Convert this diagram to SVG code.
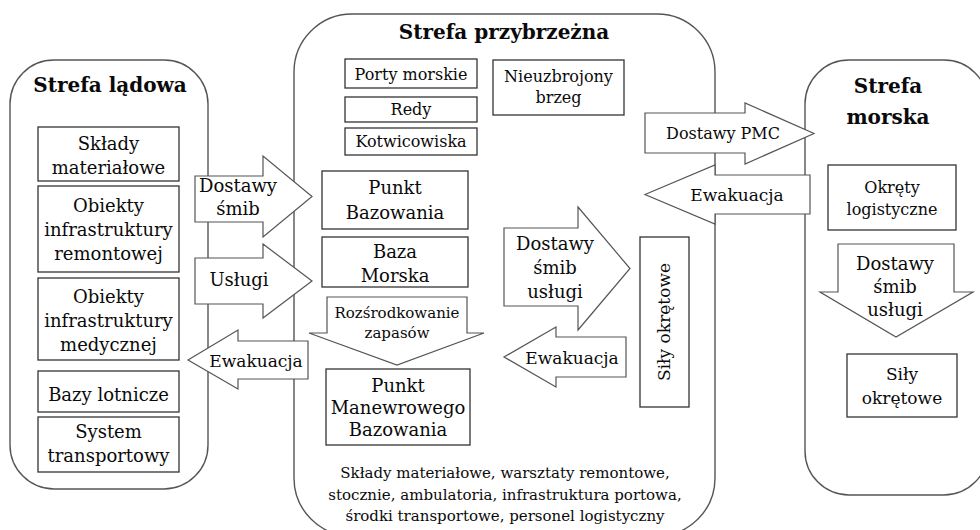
<svg xmlns="http://www.w3.org/2000/svg" width="980" height="530" viewBox="0 0 980 530">
  <style>
    .zone { fill: #fff; stroke: #555; stroke-width: 1.4; }
    .box { fill: #fff; stroke: #333; stroke-width: 1.3; }
    .arrow { fill: #fff; stroke: #555; stroke-width: 1.2; stroke-linejoin: miter; }
    text { font-family: "DejaVu Serif", "Liberation Serif", serif; fill: #0a0a0a; text-anchor: middle; }
    .title { font-size: 20px; font-weight: bold; }
    .t { font-size: 18px; }
    .m { font-size: 17px; }
    .n { font-size: 16px; }
    .s { font-size: 15px; }
  </style>

  <!-- zones -->
  <g id="zone-land">
    <rect class="zone" x="10" y="60" width="198" height="429" rx="44" ry="44"/>
    <text class="title" x="110" y="92">Strefa lądowa</text>
  </g>
  <g id="zone-coast">
    <rect class="zone" x="294" y="14" width="421" height="522" rx="58" ry="58"/>
    <text class="title" x="504" y="39">Strefa przybrzeżna</text>
  </g>
  <g id="zone-sea">
    <rect class="zone" x="805" y="60" width="183" height="435" rx="44" ry="44"/>
    <text class="title" x="888" y="93">Strefa</text>
    <text class="title" x="888" y="124">morska</text>
  </g>

  <!-- flows between and inside zones -->
  <g id="connectors">
    <g id="arrow-dostawy-land">
      <polygon class="arrow" points="195,176 263,176 263,156 312,196.5 263,237 263,222 195,222"/>
      <text class="t" x="238" y="192">Dostawy</text>
      <text class="t" x="238" y="215">śmib</text>
    </g>
    <g id="arrow-uslugi-land">
      <polygon class="arrow" points="195,258 263,258 263,244 312,281 263,318 263,304 195,304"/>
      <text class="t" x="239" y="286">Usługi</text>
    </g>
    <g id="arrow-ewakuacja-land">
      <polygon class="arrow" points="188,360 238,330 238,341 308,341 308,379 238,379 238,389"/>
      <text class="m" x="256" y="367">Ewakuacja</text>
    </g>
    <g id="arrow-rozsrodkowanie">
      <polygon class="arrow" points="327,297 467,297 467,333 484,333 397,365 309,333 327,333"/>
      <text class="s" x="397" y="318">Rozśrodkowanie</text>
      <text class="s" x="397" y="338">zapasów</text>
    </g>
    <g id="arrow-dostawy-coast">
      <polygon class="arrow" points="504,228 578,228 578,207 630,268.5 578,330 578,306 504,306"/>
      <text class="t" x="555" y="250">Dostawy</text>
      <text class="t" x="555" y="274">śmib</text>
      <text class="t" x="555" y="298">usługi</text>
    </g>
    <g id="arrow-ewakuacja-coast">
      <polygon class="arrow" points="504,357 556,327 556,337 626,337 626,377 556,377 556,387"/>
      <text class="m" x="572" y="364">Ewakuacja</text>
    </g>
    <g id="arrow-dostawy-pmc">
      <polygon class="arrow" points="645,113 745,113 745,103 814,133.5 745,164 745,153 645,153"/>
      <text class="n" x="723" y="139">Dostawy PMC</text>
    </g>
    <g id="arrow-ewakuacja-sea">
      <polygon class="arrow" points="645,194.5 715,165 715,175 810,175 810,214 715,214 715,224"/>
      <text class="m" x="737" y="201">Ewakuacja</text>
    </g>
    <g id="arrow-dostawy-sea">
      <polygon class="arrow" points="838,244 954,244 954,292 973,292 896,337 820,292 838,292"/>
      <text class="t" x="895" y="270">Dostawy</text>
      <text class="t" x="895" y="293">śmib</text>
      <text class="t" x="895" y="316">usługi</text>
    </g>
  </g>

  <!-- land zone nodes -->
  <g id="sklady">
    <rect class="box" x="38" y="127" width="141" height="54"/>
    <text class="t" x="108.5" y="150">Składy</text>
    <text class="t" x="108.5" y="174">materiałowe</text>
  </g>
  <g id="infra-remontowa">
    <rect class="box" x="38" y="186" width="141" height="86"/>
    <text class="t" x="108.5" y="212">Obiekty</text>
    <text class="t" x="108.5" y="236">infrastruktury</text>
    <text class="t" x="108.5" y="260">remontowej</text>
  </g>
  <g id="infra-medyczna">
    <rect class="box" x="38" y="278" width="141" height="82"/>
    <text class="t" x="108.5" y="303">Obiekty</text>
    <text class="t" x="108.5" y="327">infrastruktury</text>
    <text class="t" x="108.5" y="351">medycznej</text>
  </g>
  <g id="bazy-lotnicze">
    <rect class="box" x="38" y="371" width="141" height="41"/>
    <text class="t" x="108.5" y="401">Bazy lotnicze</text>
  </g>
  <g id="system-transportowy">
    <rect class="box" x="38" y="417" width="141" height="55"/>
    <text class="t" x="108.5" y="438">System</text>
    <text class="t" x="108.5" y="462">transportowy</text>
  </g>

  <!-- coastal zone nodes -->
  <g id="porty">
    <rect class="box" x="345" y="59" width="132" height="29"/>
    <text class="n" x="411" y="80">Porty morskie</text>
  </g>
  <g id="redy">
    <rect class="box" x="345" y="97" width="132" height="25"/>
    <text class="n" x="411" y="115">Redy</text>
  </g>
  <g id="kotwicowiska">
    <rect class="box" x="345" y="128" width="132" height="27"/>
    <text class="n" x="411" y="147">Kotwicowiska</text>
  </g>
  <g id="nieuzbrojony-brzeg">
    <rect class="box" x="493" y="60" width="131" height="55"/>
    <text class="n" x="558.5" y="82">Nieuzbrojony</text>
    <text class="n" x="558.5" y="103">brzeg</text>
  </g>
  <g id="punkt-bazowania">
    <rect class="box" x="322" y="171" width="146" height="58"/>
    <text class="t" x="395" y="194">Punkt</text>
    <text class="t" x="395" y="219">Bazowania</text>
  </g>
  <g id="baza-morska">
    <rect class="box" x="322" y="237" width="146" height="50"/>
    <text class="t" x="395" y="258">Baza</text>
    <text class="t" x="395" y="282">Morska</text>
  </g>
  <g id="punkt-manewrowego">
    <rect class="box" x="326" y="369" width="144" height="76"/>
    <text class="t" x="398" y="392">Punkt</text>
    <text class="t" x="398" y="414">Manewrowego</text>
    <text class="t" x="398" y="436">Bazowania</text>
  </g>
  <g id="sily-okretowe-coast">
    <rect class="box" x="640" y="237" width="49" height="170"/>
    <text class="m" transform="translate(670,322) rotate(-90)" x="0" y="0">Siły okrętowe</text>
  </g>
  <g id="coast-resources">
    <text class="s" x="505" y="478">Składy materiałowe, warsztaty remontowe,</text>
    <text class="s" x="505" y="500">stocznie, ambulatoria, infrastruktura portowa,</text>
    <text class="s" x="505" y="521">środki transportowe, personel logistyczny</text>
  </g>

  <!-- sea zone nodes -->
  <g id="okrety-logistyczne">
    <rect class="box" x="828" y="165" width="128" height="65"/>
    <text class="n" x="892" y="193">Okręty</text>
    <text class="n" x="892" y="215">logistyczne</text>
  </g>
  <g id="sily-okretowe-sea">
    <rect class="box" x="847" y="354" width="110" height="63"/>
    <text class="m" x="902" y="380">Siły</text>
    <text class="m" x="902" y="404">okrętowe</text>
  </g>
</svg>
